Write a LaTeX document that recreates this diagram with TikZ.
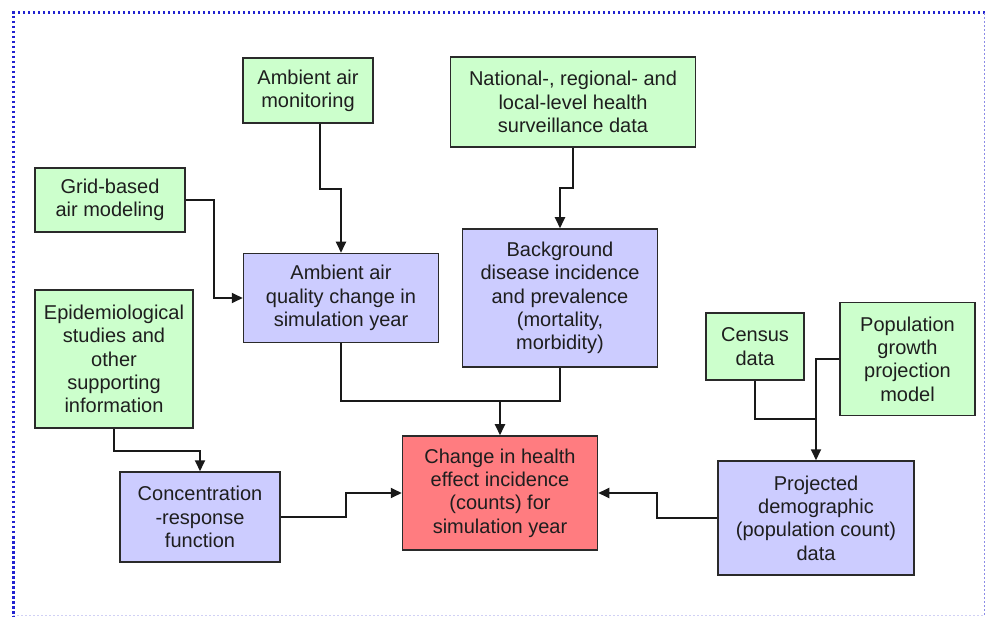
\documentclass[tikz,border=0pt]{standalone}
\usepackage{fontspec}
\setmainfont{Liberation Sans}
\usetikzlibrary{arrows.meta}
\definecolor{gfill}{HTML}{CCFFCC}
\definecolor{bfill}{HTML}{CCCCFF}
\definecolor{rfill}{HTML}{FF7C80}
\definecolor{edgec}{HTML}{2A2A2A}
\definecolor{dotblue}{HTML}{2222D0}
\definecolor{ltblue}{HTML}{8C8CE6}
\definecolor{txt}{HTML}{1E1E1E}
\begin{document}
\begin{tikzpicture}[x=1pt,y=-1pt,
  box/.style={draw=edgec, line width=1.5pt, inner sep=0pt, align=center,
    font=\fontsize{20}{23.3}\selectfont, text=txt},
  gbox/.style={box, fill=gfill},
  bbox/.style={box, fill=bfill},
  rbox/.style={box, fill=rfill},
  ln/.style={line width=1.8pt, draw=black!90},
  arr/.style={ln, -{Triangle[length=11pt,width=10pt]}}]
\useasboundingbox (0,0) rectangle (988,617);
\fill[white] (0,0) rectangle (988,617);
% frame
\draw[dotblue, line width=3pt, dash pattern=on 2.5pt off 2.5pt] (985,13) -- (13,13) -- (13,617);
\draw[ltblue, line width=1pt, dash pattern=on 2pt off 2pt] (984,13) -- (984,617);
\draw[ltblue!40, line width=1pt, dash pattern=on 2pt off 2pt] (13,615.5) -- (984,615.5);
% nodes
\node[gbox, minimum width=130pt, minimum height=65pt] (mon) at (308,90.5) {Ambient air\\monitoring};
\node[gbox, minimum width=245pt, minimum height=90pt] (nat) at (573,102) {National-, regional- and\\local-level health\\surveillance data};
\node[gbox, minimum width=150pt, minimum height=64pt] (grid) at (110,200) {Grid-based\\air modeling};
\node[gbox, minimum width=158pt, minimum height=138pt] (epi) at (114,359) {Epidemiological\\studies and\\other\\supporting\\information};
\node[bbox, minimum width=195pt, minimum height=89pt] (aq) at (341,298) {Ambient air\\quality change in\\simulation year};
\node[bbox, minimum width=195pt, minimum height=138pt] (bg) at (560,298) {Background\\disease incidence\\and prevalence\\(mortality,\\morbidity)};
\node[gbox, minimum width=98pt, minimum height=67pt] (cen) at (755,346.5) {Census\\data};
\node[gbox, minimum width=135pt, minimum height=113pt] (pop) at (907.5,359) {Population\\growth\\projection\\model};
\node[bbox, minimum width=196pt, minimum height=114pt] (proj) at (816,518) {Projected\\demographic\\(population count)\\data};
\node[rbox, minimum width=195pt, minimum height=114pt] (chg) at (500,493) {Change in health\\effect incidence\\(counts) for\\simulation year};
\node[bbox, minimum width=160pt, minimum height=90pt] (cr) at (200,517) {Concentration\\-response\\function};
% junctions
\path (chg.north) ++(0,-34) coordinate (j1);
\path (proj.north) ++(0,-41) coordinate (j2);
% connectors
\draw[arr] ([xshift=12pt]mon.south) -- ++(0,65) -| (aq.north);
\draw[arr] (nat.south) -- ++(0,40) -| (bg.north);
\draw[arr] (grid.east) -- ++(28,0) |- (aq.west);
\draw[ln] (aq.south) |- (j1);
\draw[ln] (bg.south) |- (j1);
\draw[arr] (j1) -- (chg.north);
\draw[arr] (epi.south) -- ++(0,22) -| (cr.north);
\draw[arr] (cr.east) -- ++(65,0) |- (chg.west);
\draw[arr] (proj.west) -- ++(-60,0) |- (chg.east);
\draw[ln] (cen.south) |- (j2);
\draw[ln] (pop.west) -| (j2);
\draw[arr] (j2) -- (proj.north);
\end{tikzpicture}
\end{document}
